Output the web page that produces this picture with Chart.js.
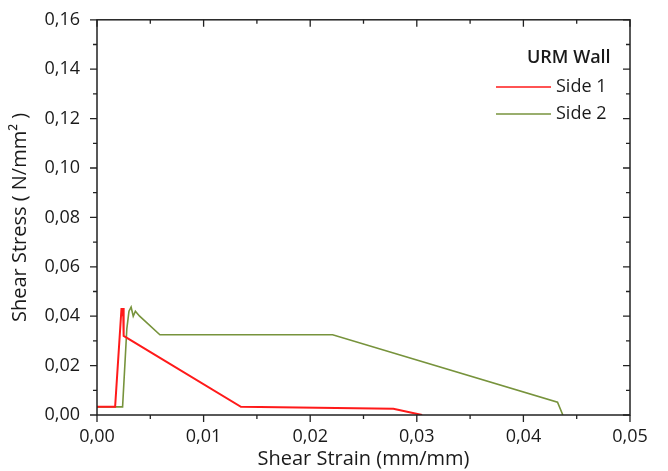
<!DOCTYPE html>
<html>
<head>
<meta charset="utf-8">
<script src="https://cdn.jsdelivr.net/npm/chart.js@4"></script>
<style>
  html, body { margin: 0; padding: 0; background: #fff; }
  #wrap { width: 668px; height: 471px; }
</style>
</head>
<body>
<div id="wrap"><canvas id="chart"></canvas></div>
<script>
// shear strain (mm/mm) / shear stress (N/mm2)
const side1Strain = [0, 0.0017, 0.0023, 0.0024, 0.00245, 0.0025, 0.0135, 0.0278, 0.0305];
const side1Stress = [0.0033, 0.0033, 0.0433, 0.0400, 0.0433, 0.0320, 0.0033, 0.0025, 0];

const side2Strain = [0, 0.0024, 0.0028, 0.0030, 0.0032, 0.0034, 0.0036, 0.0040, 0.0059, 0.0221, 0.0432, 0.0437];
const side2Stress = [0.0033, 0.0033, 0.0350, 0.0420, 0.0437, 0.0400, 0.0420, 0.0400, 0.0325, 0.0325, 0.0052, 0];

const legendTitle = 'URM Wall';
const seriesNames = ['Side 1', 'Side 2'];
const seriesColors = ['#ff1a1a', '#77933c'];

const FONT = '"Open Sans", sans-serif';
const TEXT = '#1a1a1a';

function toPoints(xs, ys) {
    return xs.map((x, i) => ({ x: x, y: ys[i] }));
}

function comma(v) {
    return (Math.round(v * 100) / 100).toFixed(2).replace('.', ',');
}

// frame, ticks (major + minor) and the in-plot legend
const framePlugin = {
    id: 'frame',
    afterDraw(chart) {
        const ctx = chart.ctx;
        const a = chart.chartArea;
        const xs = chart.scales.x, ys = chart.scales.y;
        ctx.save();
        ctx.strokeStyle = '#222';
        ctx.lineWidth = 1.5;
        ctx.strokeRect(a.left, a.top, a.right - a.left, a.bottom - a.top);

        ctx.lineWidth = 1.3;
        ctx.beginPath();
        for (let i = 0; i <= 10; i++) {
            const v = i * 0.005;
            const px = xs.getPixelForValue(v);
            const len = i % 2 === 0 ? 7 : 4;
            ctx.moveTo(px, a.bottom); ctx.lineTo(px, a.bottom + len);
            ctx.moveTo(px, a.top); ctx.lineTo(px, a.top + len);
        }
        for (let i = 0; i <= 16; i++) {
            const v = i * 0.01;
            const py = ys.getPixelForValue(v);
            const len = i % 2 === 0 ? 7 : 4;
            ctx.moveTo(a.left, py); ctx.lineTo(a.left - len, py);
            ctx.moveTo(a.right, py); ctx.lineTo(a.right - len, py);
        }
        ctx.stroke();

        // legend
        ctx.font = '600 18px ' + FONT;
        ctx.fillStyle = TEXT;
        ctx.textBaseline = 'middle';
        ctx.fillText(legendTitle, 527, 58);
        ctx.font = '18px ' + FONT;
        seriesNames.forEach((name, i) => {
            const y = 87 + i * 27;
            ctx.strokeStyle = seriesColors[i];
            ctx.lineWidth = 1.5;
            ctx.beginPath();
            ctx.moveTo(496, y); ctx.lineTo(551, y);
            ctx.stroke();
            ctx.fillStyle = TEXT;
            ctx.fillText(name, 556, y);
        });
        ctx.restore();
    }
};

new Chart(document.getElementById('chart'), {
    type: 'line',
    data: {
        datasets: [
            {
                label: seriesNames[0],
                data: toPoints(side1Strain, side1Stress),
                borderColor: seriesColors[0],
                borderWidth: 2,
                pointRadius: 0,
                tension: 0
            },
            {
                label: seriesNames[1],
                data: toPoints(side2Strain, side2Stress),
                borderColor: seriesColors[1],
                borderWidth: 1.6,
                pointRadius: 0,
                tension: 0
            }
        ]
    },
    options: {
        responsive: true,
        maintainAspectRatio: false,
        animation: false,
        layout: { padding: { top: 16, right: 38, left: 0, bottom: 0 } },
        plugins: { legend: { display: false }, tooltip: { enabled: false } },
        scales: {
            x: {
                type: 'linear',
                min: 0,
                max: 0.05,
                ticks: {
                    stepSize: 0.01,
                    color: TEXT,
                    font: { family: FONT, size: 18 },
                    padding: 3,
                    callback: (v) => comma(v)
                },
                grid: { display: false },
                border: { display: false },
                title: {
                    display: true,
                    text: 'Shear Strain (mm/mm)',
                    color: TEXT,
                    font: { family: FONT, size: 20 },
                    padding: { top: -9, bottom: 0 }
                },
                afterFit(scale) { scale.height = 56; }
            },
            y: {
                min: 0,
                max: 0.16,
                ticks: {
                    stepSize: 0.02,
                    color: TEXT,
                    font: { family: FONT, size: 18 },
                    padding: 9,
                    callback: (v) => comma(v)
                },
                grid: { display: false },
                border: { display: false },
                title: {
                    display: true,
                    text: 'Shear Stress ( N/mm\u00b2 )',
                    color: TEXT,
                    font: { family: FONT, size: 20 },
                    padding: { top: 8, bottom: 0 }
                },
                afterFit(scale) { scale.width = 97; }
            }
        }
    },
    plugins: [framePlugin]
});
</script>
</body>
</html>
